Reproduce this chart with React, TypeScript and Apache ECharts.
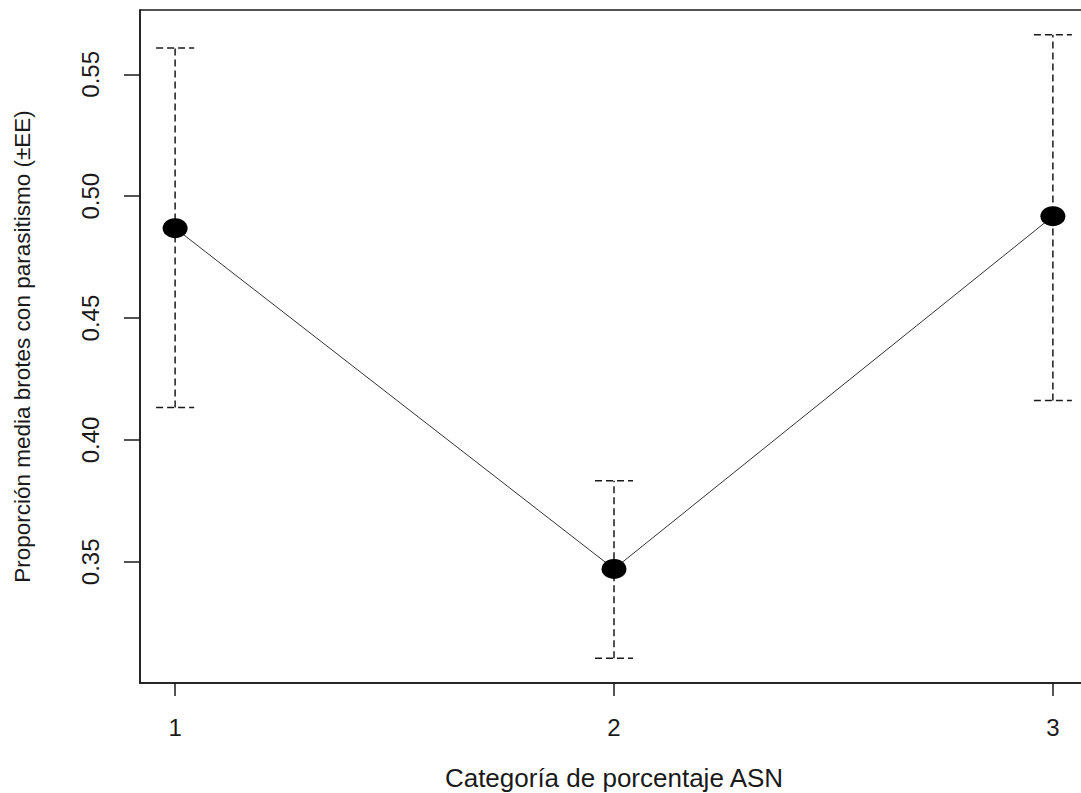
import React, { useEffect, useRef } from "react";
import * as echarts from "echarts";

const categories = [1, 2, 3];
const means = [0.4869, 0.3471, 0.4918];
const lower = [0.4133, 0.3105, 0.4162];
const upper = [0.5608, 0.3833, 0.5662];
const xTicks = [1, 2, 3];
const yTicks = [0.35, 0.4, 0.45, 0.5, 0.55];

const FONT = "'Liberation Sans', Arial, sans-serif";
const INK = "#1a1a1a";

export default function App() {
  const ref = useRef<HTMLDivElement>(null);
  useEffect(() => {
    document.body.style.margin = "0";
    const chart = echarts.init(ref.current!, null, { renderer: "svg" });
    const option: any = {
      animation: false,
      backgroundColor: "#ffffff",
      grid: {
        left: 140,
        top: 10,
        width: 948,
        height: 673,
        show: true,
        borderColor: INK,
        borderWidth: 1.5,
        backgroundColor: "transparent",
        outerBoundsMode: "none",
      },
      xAxis: {
        type: "value",
        min: 0.92,
        max: 3.08,
        name: "Categoría de porcentaje ASN",
        nameLocation: "middle",
        nameGap: 82,
        nameTextStyle: { fontFamily: FONT, fontSize: 26, color: INK },
        axisLine: { show: true, lineStyle: { color: INK, width: 1.5 } },
        axisTick: {
          show: true,
          length: 13,
          customValues: xTicks,
          lineStyle: { color: INK, width: 1.5 },
        },
        axisLabel: {
          customValues: xTicks,
          margin: 32,
          fontFamily: FONT,
          fontSize: 24,
          color: INK,
          formatter: (v: number) => String(v),
        },
        splitLine: { show: false },
      },
      yAxis: {
        type: "value",
        min: 0.3003,
        max: 0.5764,
        name: "Proporción media brotes con parasitismo (±EE)",
        nameLocation: "middle",
        nameGap: 106,
        nameRotate: 90,
        nameTextStyle: { fontFamily: FONT, fontSize: 22.5, color: INK },
        axisLine: { show: true, lineStyle: { color: INK, width: 1.5 } },
        axisTick: {
          show: true,
          length: 16,
          customValues: yTicks,
          lineStyle: { color: INK, width: 1.5 },
        },
        axisLabel: {
          customValues: yTicks,
          rotate: 90,
          margin: 38,
          fontFamily: FONT,
          fontSize: 24,
          color: INK,
          formatter: (v: number) => v.toFixed(2),
        },
        splitLine: { show: false },
      },
      series: [
        {
          type: "custom",
          z: 1,
          data: categories.map((c, i) => [c, lower[i], upper[i]]),
          renderItem: (params: any, api: any) => {
            const x = api.value(0);
            const lo = api.coord([x, api.value(1)]);
            const hi = api.coord([x, api.value(2)]);
            const hw = 19;
            const style = {
              stroke: INK,
              lineWidth: 1.5,
              lineDash: [7, 4],
              fill: null,
            };
            return {
              type: "group",
              children: [
                {
                  type: "line",
                  shape: { x1: lo[0], y1: lo[1], x2: hi[0], y2: hi[1] },
                  style,
                },
                {
                  type: "line",
                  shape: { x1: hi[0] - hw, y1: hi[1], x2: hi[0] + hw, y2: hi[1] },
                  style,
                },
                {
                  type: "line",
                  shape: { x1: lo[0] - hw, y1: lo[1], x2: lo[0] + hw, y2: lo[1] },
                  style,
                },
              ],
            };
          },
        },
        {
          type: "line",
          z: 2,
          data: categories.map((c, i) => [c, means[i]]),
          symbol: "circle",
          symbolSize: [25, 20],
          showSymbol: true,
          itemStyle: { color: "#000000" },
          lineStyle: { color: "#333333", width: 1 },
        },
      ],
    };
    chart.setOption(option);
    return () => chart.dispose();
  }, []);
  return (
    <div style={{ width: 1081, height: 793, overflow: "hidden" }}>
      <div ref={ref} style={{ width: 1100, height: 793 }} />
    </div>
  );
}
